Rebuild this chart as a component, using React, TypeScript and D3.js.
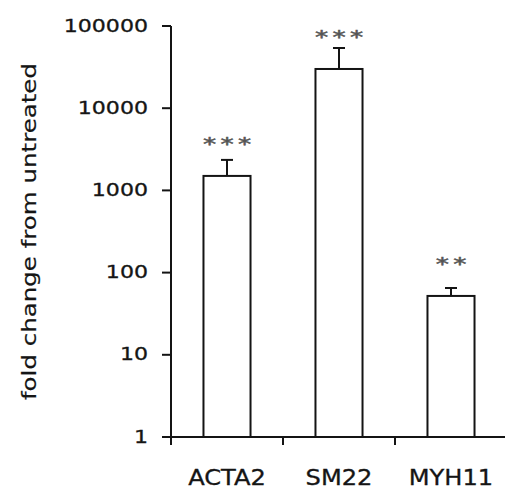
import React from "react";
import * as d3 from "d3";

// Gene expression relative to untreated cells (log scale)
const genes = ["ACTA2", "SM22", "MYH11"];
const foldChange = [1500, 30000, 52];
const upperError = [2350, 54000, 65];
const significance = ["***", "***", "**"];
const yTicks = [1, 10, 100, 1000, 10000, 100000];

const W = 505;
const H = 497;
const axisX = 171;
const axisY = 437;
const topY = 26;

export default function App() {
  const y = d3.scaleLog().domain([1, 100000]).range([axisY, topY]);
  const x = d3.scaleBand<string>().domain(genes).range([axisX, axisX + 336]).padding(0);
  const barW = x.bandwidth() * 0.42;
  const capW = 12;
  const ink = "#141414";
  const font = "'DejaVu Sans', Verdana, sans-serif";

  return (
    <svg
      width={W}
      height={H}
      style={{ position: "absolute", left: 0, top: 0, background: "#fff" }}
    >
      {/* y axis */}
      <line x1={axisX} x2={axisX} y1={topY} y2={axisY} stroke={ink} strokeWidth={2} />
      {yTicks.map((t) => (
        <g key={t}>
          <line x1={axisX - 9} x2={axisX} y1={y(t)} y2={y(t)} stroke={ink} strokeWidth={2} />
          <text
            transform={`translate(${axisX - 23},${y(t)}) scale(1.3,1)`}
            textAnchor="end"
            dominantBaseline="central"
            fontFamily={font}
            fontSize={17}
            fill="#151515"
            stroke="#151515"
            strokeWidth={0.3}
          >
            {d3.format("d")(t)}
          </text>
        </g>
      ))}
      <text
        transform={`translate(29,${(63 + 400) / 2}) rotate(-90)`}
        textAnchor="middle"
        dominantBaseline="central"
        fontFamily={font}
        fontSize={20}
        textLength={337}
        lengthAdjust="spacingAndGlyphs"
        fill="#151515"
        stroke="#151515"
        strokeWidth={0.2}
      >
        fold change from untreated
      </text>

      {/* x axis */}
      <line x1={axisX - 9} x2={W} y1={axisY} y2={axisY} stroke={ink} strokeWidth={2} />
      {genes.map((g) => (
        <line
          key={g}
          x1={x(g)!}
          x2={x(g)!}
          y1={axisY}
          y2={axisY + 8}
          stroke={ink}
          strokeWidth={2}
        />
      ))}
      {genes.map((g) => (
        <text
          key={g}
          transform={`translate(${x(g)! + x.bandwidth() / 2},${478}) scale(1.15,1)`}
          textAnchor="middle"
          dominantBaseline="central"
          fontFamily={font}
          fontSize={21}
          fill="#151515"
          stroke="#151515"
          strokeWidth={0.3}
        >
          {g}
        </text>
      ))}

      {/* bars with upper error bars and significance stars */}
      {genes.map((g, i) => {
        const cx = x(g)! + x.bandwidth() / 2;
        const top = y(foldChange[i]);
        const errTop = y(upperError[i]);
        const stars = significance[i].split("");
        const sp = 17.5;
        const starCenter = top - 36.5;
        const starSize = 23;
        return (
          <g key={g}>
            <rect
              x={cx - barW / 2}
              y={top}
              width={barW}
              height={axisY - top}
              fill="#fff"
              stroke={ink}
              strokeWidth={2}
            />
            <line x1={cx} x2={cx} y1={top} y2={errTop} stroke={ink} strokeWidth={2} />
            <line
              x1={cx - capW / 2}
              x2={cx + capW / 2}
              y1={errTop}
              y2={errTop}
              stroke={ink}
              strokeWidth={2}
            />
            {stars.map((s, k) => (
              <text
                key={k}
                transform={`translate(${cx + (k - (stars.length - 1) / 2) * sp},${
                  starCenter + 0.55 * starSize * 0.8
                }) scale(1.15,0.8)`}
                textAnchor="middle"
                fontFamily={font}
                fontSize={starSize}
                fill="#555"
                stroke="#555"
                strokeWidth={0.6}
              >
                {s}
              </text>
            ))}
          </g>
        );
      })}
    </svg>
  );
}
